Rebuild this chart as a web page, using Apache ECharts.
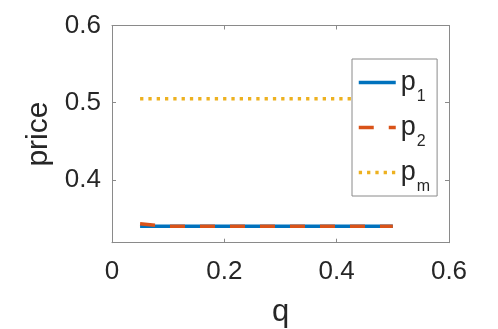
<!DOCTYPE html>
<html>
<head>
<meta charset="utf-8">
<script src="https://cdn.jsdelivr.net/npm/echarts@6/dist/echarts.min.js"></script>
<style>html,body{margin:0;padding:0;background:#fff}#c{width:498px;height:329px}</style>
</head>
<body>
<div id="c"></div>
<script>
var q  = [0.05, 0.10, 0.15, 0.20, 0.25, 0.30, 0.35, 0.40, 0.45, 0.50];
var p1 = [0.3397, 0.3397, 0.3397, 0.3397, 0.3397, 0.3397, 0.3397, 0.3397, 0.3397, 0.3397];
var p2 = [0.3430, 0.3397, 0.3397, 0.3397, 0.3397, 0.3397, 0.3397, 0.3397, 0.3397, 0.3397];
var pm = [0.5052, 0.5052, 0.5052, 0.5052, 0.5052, 0.5052, 0.5052, 0.5052, 0.5052, 0.5052];
var yTicks = [0.4, 0.5, 0.6];
var seriesNames = ['p1', 'p2', 'pm'];
var subs = {p1: '1', p2: '2', pm: 'm'};

function pairs(xs, ys) { return xs.map(function (x, i) { return [x, ys[i]]; }); }

var FONT = '"Liberation Sans", Arial, Helvetica, sans-serif';
var AX = '#8a8a8a';
var TXT = '#262626';
var yMin = 0.3185, yMax = 0.6;

var chart = echarts.init(document.getElementById('c'), null, {renderer: 'canvas'});
chart.setOption({
  animation: false,
  backgroundColor: '#fff',
  textStyle: {fontFamily: FONT},
  grid: {left: 112, right: 49, top: 25.5, bottom: 86.3, containLabel: false, outerBoundsMode: 'none'},
  xAxis: [{
    type: 'value', min: 0, max: 0.6, interval: 0.2, position: 'bottom',
    name: 'q', nameLocation: 'middle', nameGap: 54,
    nameTextStyle: {fontSize: 31, color: TXT, fontFamily: FONT},
    axisLine: {show: true, onZero: false, lineStyle: {color: AX, width: 1}},
    axisTick: {show: true, inside: true, length: 4, lineStyle: {color: AX}},
    axisLabel: {fontSize: 26, color: TXT, margin: 16, fontFamily: FONT},
    splitLine: {show: false}
  }, {
    type: 'value', min: 0, max: 0.6, interval: 0.2, position: 'top',
    axisLine: {show: true, onZero: false, lineStyle: {color: AX, width: 1}},
    axisTick: {show: true, inside: true, length: 4, lineStyle: {color: AX}},
    axisLabel: {show: false}, splitLine: {show: false}
  }],
  yAxis: [{
    type: 'value', min: yMin, max: yMax, position: 'left',
    name: 'price', nameLocation: 'middle', nameGap: 51,
    nameTextStyle: {fontSize: 30, color: TXT, fontFamily: FONT},
    axisLine: {show: true, onZero: false, lineStyle: {color: AX, width: 1}},
    axisTick: {show: true, inside: true, length: 4, lineStyle: {color: AX}, customValues: yTicks},
    axisLabel: {fontSize: 26, color: TXT, margin: 11, fontFamily: FONT, customValues: yTicks,
      formatter: function (v) { return v.toFixed(1); }},
    splitLine: {show: false}
  }, {
    type: 'value', min: yMin, max: yMax, position: 'right',
    axisLine: {show: true, onZero: false, lineStyle: {color: AX, width: 1}},
    axisTick: {show: true, inside: true, length: 4, lineStyle: {color: AX}, customValues: yTicks},
    axisLabel: {show: false, customValues: yTicks}, splitLine: {show: false}
  }],
  legend: {
    orient: 'vertical', left: 352, top: 59,
    data: seriesNames,
    backgroundColor: '#fff', borderColor: AX, borderWidth: 1,
    padding: [1, 7, 1, 5], itemGap: 0, itemWidth: 37, itemHeight: 45,
    selectedMode: false,
    lineStyle: {width: 3.5},
    itemStyle: {opacity: 0, borderWidth: 0},
    formatter: function (n) { return '{b|p}{s|' + subs[n] + '}'; },
    textStyle: {
      fontFamily: FONT, color: TXT,
      rich: {
        b: {fontSize: 27, lineHeight: 27, fontFamily: FONT, color: TXT},
        s: {fontSize: 16, lineHeight: 16, fontFamily: FONT, color: TXT, padding: [29, 0, 0, 1]}
      }
    }
  },
  series: [{
    name: 'p1', type: 'line', symbol: 'none', data: pairs(q, p1),
    xAxisIndex: 0, yAxisIndex: 0,
    lineStyle: {color: '#0072BD', width: 3.5, type: 'solid'}, itemStyle: {color: '#0072BD'}
  }, {
    name: 'p2', type: 'line', symbol: 'none', data: pairs(q, p2),
    xAxisIndex: 0, yAxisIndex: 0,
    lineStyle: {color: '#D95319', width: 3.5, type: [15, 15], cap: 'butt'}, itemStyle: {color: '#D95319'}
  }, {
    name: 'pm', type: 'line', symbol: 'none', data: pairs(q, pm),
    xAxisIndex: 0, yAxisIndex: 0,
    lineStyle: {color: '#EDB120', width: 3.5, type: [3.3, 5], cap: 'butt'}, itemStyle: {color: '#EDB120'}
  }]
});
</script>
</body>
</html>
